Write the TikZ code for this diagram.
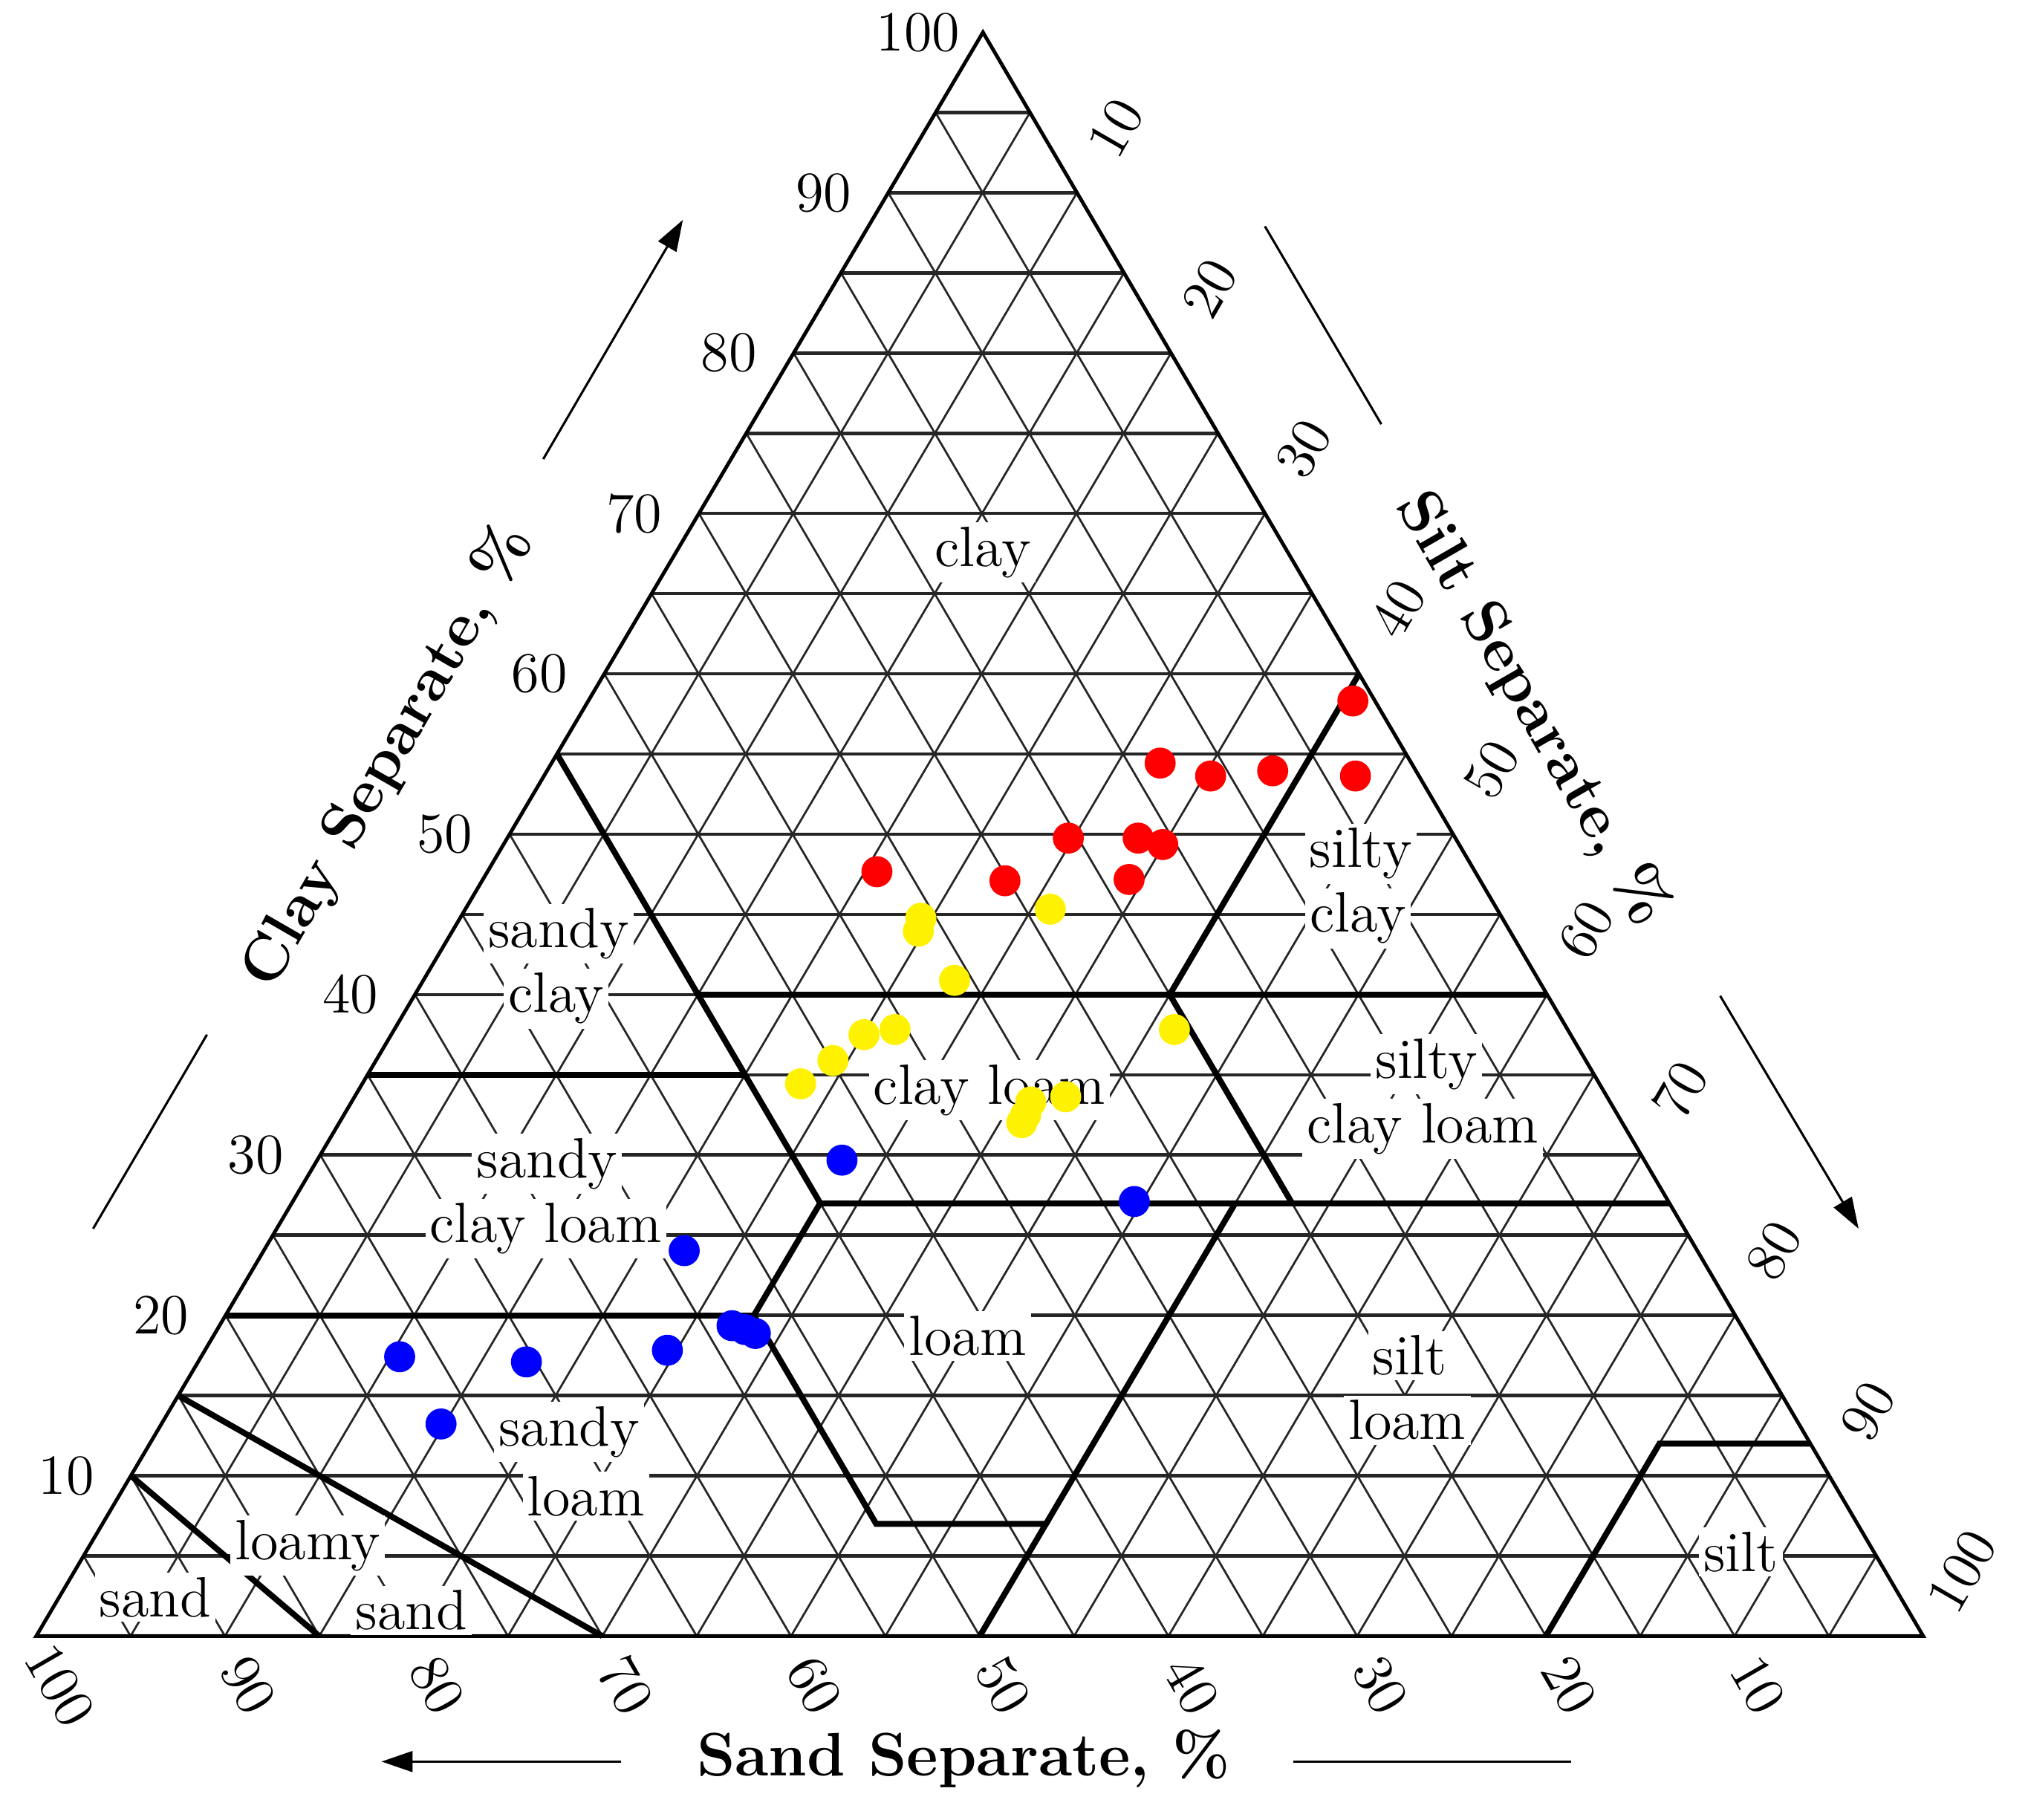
\documentclass[tikz,border=0pt]{standalone}
\usetikzlibrary{arrows.meta}
\begin{document}
\begin{tikzpicture}[x=0.1mm,y=0.1mm,
  gridh/.style={line width=0.75pt,black!85},
  gridd/.style={line width=0.45pt,black!85},
  bound/.style={line width=1.3pt,black},
  tex/.style={fill=white,inner sep=1pt,font=\fontsize{12.5}{13}\selectfont},
  num/.style={font=\fontsize{12.5}{13}\selectfont,inner sep=0pt},
  ttl/.style={font=\bfseries\fontsize{13.5}{14}\selectfont,inner sep=0pt},
  axl/.style={line width=0.5pt},
  axa/.style={line width=0.5pt,-{Triangle[length=2.4mm,width=1.6mm]}},
  rp/.style={fill=red,draw=none},
  yp/.style={fill=yellow,draw=none},
  bp/.style={fill=blue,draw=none}]
\newcommand{\tp}[2]{({1487-14.59*(#1)-7.27*(#2)},{142+12.4*(#2)})}
\useasboundingbox (0,0) rectangle (1568,1407);
% grid
\foreach \k in {5,10,...,95}{
  \draw[gridh] \tp{100-\k}{\k} -- \tp{0}{\k};
  \draw[gridd] \tp{\k}{0} -- \tp{\k}{100-\k};
  \draw[gridd] \tp{100-\k}{0} -- \tp{0}{100-\k};
}
\draw[line width=0.8pt] \tp{100}{0} coordinate (BL) -- \tp{0}{0} coordinate (BR) -- \tp{0}{100} coordinate (AP) -- cycle;
% boundaries
\draw[bound] \tp{45}{55} -- \tp{45}{27};
\draw[bound] \tp{65}{35} -- \tp{45}{35};
\draw[bound] \tp{45}{40} -- \tp{0}{40};
\draw[bound] \tp{0}{60} -- \tp{20}{40} -- \tp{20}{27};
\draw[bound] \tp{45}{27} -- \tp{0}{27};
\draw[bound] \tp{45}{27} -- \tp{52}{20} -- \tp{52}{7} -- \tp{43}{7} -- \tp{50}{0};
\draw[bound] \tp{23}{27} -- \tp{43}{7};
\draw[bound] \tp{80}{20} -- \tp{52}{20};
\draw[bound] \tp{0}{12} -- \tp{8}{12} -- \tp{20}{0};
\draw[bound] \tp{85}{15} -- \tp{70}{0};
\draw[bound] \tp{90}{10} -- \tp{85}{0};
% texture labels
\node[tex] (lclay) at (760,980) {clay};
\node[tex] (lsc1) at (432,685) {sandy};
\node[tex] (lsc2) at (430,635) {clay};
\node[tex] (lsic1) at (1052,747) {silty};
\node[tex] (lsic2) at (1050,697) {clay};
\node[tex] (lsicl1) at (1103,584) {silty};
\node[tex] (lsicl2) at (1100,534) {clay loam};
\node[tex] (lcl) at (765,564) {clay loam};
\node[tex] (lscl1) at (423,507) {sandy};
\node[tex] (lscl2) at (422,457) {clay loam};
\node[tex] (lloam) at (748,374) {loam};
\node[tex] (lsil1) at (1090,359) {silt};
\node[tex] (lsil2) at (1088,309) {loam};
\node[tex] (lsl1) at (440,300) {sandy};
\node[tex] (lsl2) at (453,250) {loam};
\node[tex] (lls1) at (238,212) {loamy};
\node[tex] (lls2) at (318,162) {sand};
\node[tex] (lsand) at (120,172) {sand};
\node[tex] (lsilt) at (1346,207) {silt};
% scale numbers
\foreach \c in {10,20,...,100}{
  \node[num] (cl\c) at ({28+7.32*\c-50},{142+12.4*\c}) {\c};
  \node[num,rotate=60] (si\c) at ({1487-7.27*(100-\c)+30},{142+12.4*(100-\c)+50}) {\c};
  \node[num,rotate=-60] (sa\c) at ({1487-14.59*\c+18},{142-38}) {\c};
}
% titles and arrows
\node[ttl,rotate=60] (tcl) at (300,822) {Clay Separate, \%};
\node[ttl,rotate=-60] (tsi) at (1185,859) {Silt Separate, \%};
\node[ttl] (tsa) at (745,47) {Sand Separate, \%};
\coordinate (ca1) at (420,1052); \coordinate (ca2) at (528,1237);
\coordinate (cb1) at (72,457); \coordinate (cb2) at (160,607);
\draw[axa] (ca1) -- (ca2); \draw[axl] (cb1) -- (cb2);
\coordinate (sa1) at (978,1232); \coordinate (sa2) at (1068,1079);
\coordinate (sb1) at (1330,637); \coordinate (sb2) at (1437,457);
\draw[axl] (sa1) -- (sa2); \draw[axa] (sb1) -- (sb2);
\coordinate (da1) at (480,45); \coordinate (da2) at (295,45);
\coordinate (db1) at (1000,45); \coordinate (db2) at (1215,45);
\draw[axa] (da1) -- (da2); \draw[axl] (db1) -- (db2);
% data points
\foreach \x/\y in {1046/542,897/590,936/600,984/596,1048/600,826/648,880/648,899/653,678/674,777/681,873/680}
  \fill[rp] (\x,1407-\y) circle (12);
\foreach \x/\y in {712/710,710/720,812/703,738/758,908/796,692/796,668/800,644/820,619/838,797/852,824/848,793/862,790/868}
  \fill[yp] (\x,1407-\y) circle (12);
\foreach \x/\y in {651/897,877/929,529/967,566/1025,576/1028,584/1031,516/1044,309/1049,407/1053,341/1101}
  \fill[bp] (\x,1407-\y) circle (12);
\end{tikzpicture}
\end{document}
